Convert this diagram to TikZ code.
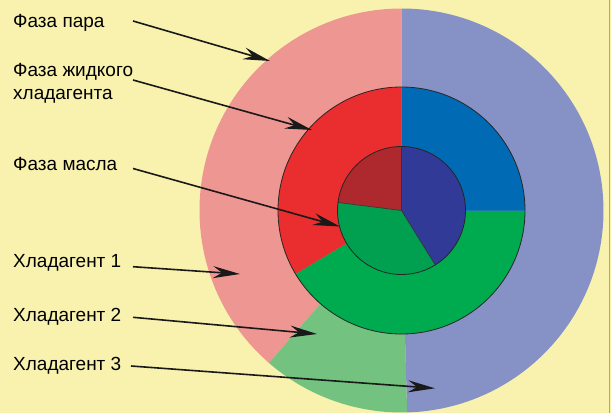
\documentclass[tikz,border=0pt]{standalone}
\usepackage{fontspec}
\setmainfont{Liberation Sans}
\usetikzlibrary{arrows.meta}
\definecolor{bg}{RGB}{249,242,174}
\definecolor{vpink}{RGB}{238,150,146}
\definecolor{vblue}{RGB}{134,145,198}
\definecolor{vgreen}{RGB}{115,194,128}
\definecolor{lred}{RGB}{234,45,46}
\definecolor{lblue}{RGB}{0,106,180}
\definecolor{lgreen}{RGB}{0,170,78}
\definecolor{ored}{RGB}{174,41,46}
\definecolor{ogreen}{RGB}{0,160,80}
\definecolor{oblue}{RGB}{49,58,150}
\begin{document}
\begin{tikzpicture}[x=1pt,y=-1pt,
  lbl/.style={anchor=base west,inner sep=0pt,font=\fontsize{19}{23}\selectfont,align=left},
  arr/.style={line width=1.6pt,draw=black!90,-{Stealth[length=27pt,width=12pt,inset=9pt]}},
  ring/.style={draw=black!85,line width=0.8pt}]
\fill[bg] (0,0) rectangle (611,413);
\useasboundingbox (0,0) rectangle (611,413);
\draw[gray!70,line width=1pt] (609.5,0) -- (609.5,413);
\coordinate (C) at (401.5,210.5);
% outer ring
\fill[vpink] (C) -- +(-90:202) arc[start angle=-90,end angle=-229,radius=202] -- cycle;
\fill[vgreen] (C) -- +(-229:202) arc[start angle=-229,end angle=-271.6,radius=202] -- cycle;
\fill[vblue] (C) -- +(-271.6:202) arc[start angle=-271.6,end angle=-450,radius=202] -- cycle;
% middle ring
\fill[lred] (C) -- +(-90:123.5) arc[start angle=-90,end angle=-211,radius=123.5] -- cycle;
\fill[lgreen] (C) -- +(-211:123.5) arc[start angle=-211,end angle=-360,radius=123.5] -- cycle;
\fill[lblue] (C) -- +(0:123.5) arc[start angle=0,end angle=-90,radius=123.5] -- cycle;
\draw[ring] (C) circle[radius=123.5];
% inner pie
\fill[ored] (C) -- +(-90:64) arc[start angle=-90,end angle=-172.8,radius=64] -- cycle;
\fill[ogreen] (C) -- +(-172.8:64) arc[start angle=-172.8,end angle=-301.8,radius=64] -- cycle;
\fill[oblue] (C) -- +(-301.8:64) arc[start angle=-301.8,end angle=-450,radius=64] -- cycle;
\draw[black!80,line width=0.6pt] (C) -- +(-90:64) (C) -- +(-172.8:64) (C) -- +(-301.8:64);
\draw[ring] (C) circle[radius=64];
% labels
\node[lbl] (l1) at (13,27) {Фаза пара};
\node[lbl] (l2) at (13,99) {Фаза жидкого\\хладагента};
\node[lbl] (l3) at (13,170.5) {Фаза масла};
\node[lbl] (l4) at (13,267.5) {Хладагент 1};
\node[lbl] (l5) at (13,321.5) {Хладагент 2};
\node[lbl] (l6) at (13,370) {Хладагент 3};
% arrow ends
\coordinate (t1) at (133,21);   \coordinate (h1) at (270,61);
\coordinate (t2) at (133,80);   \coordinate (h2) at (312,130);
\coordinate (t3) at (133,168.5);\coordinate (h3) at (340,226.5);
\coordinate (t4) at (133,266.7);\coordinate (h4) at (240,274);
\coordinate (t5) at (133,317.3);\coordinate (h5) at (317,334);
\coordinate (t6) at (131,366);  \coordinate (h6) at (435,388.3);
\draw[arr] (t1) -- (h1);
\draw[arr] (t2) -- (h2);
\draw[arr] (t3) -- (h3);
\draw[arr] (t4) -- (h4);
\draw[arr] (t5) -- (h5);
\draw[arr] (t6) -- (h6);
\end{tikzpicture}
\end{document}
